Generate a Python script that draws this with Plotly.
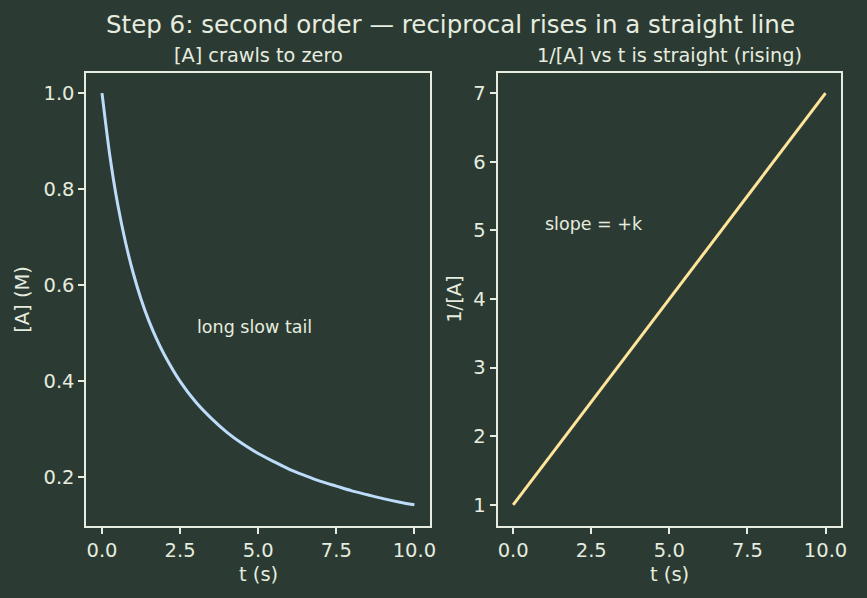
import plotly.graph_objects as go

# ---- data ----
t_s = [0.0, 0.25, 0.5, 0.75, 1.0, 1.25, 1.5, 1.75, 2.0, 2.5, 3.0, 3.5, 4.0, 4.5,
       5.0, 5.5, 6.0, 6.5, 7.0, 7.5, 8.0, 8.5, 9.0, 9.5, 10.0]
conc_A = [1.000, 0.870, 0.769, 0.690, 0.625, 0.571, 0.526, 0.488, 0.455, 0.400,
          0.357, 0.323, 0.294, 0.270, 0.250, 0.233, 0.217, 0.204, 0.192, 0.182,
          0.172, 0.164, 0.156, 0.149, 0.143]
recip_A = [1.00, 1.15, 1.30, 1.45, 1.60, 1.75, 1.90, 2.05, 2.20, 2.50, 2.80, 3.10,
           3.40, 3.70, 4.00, 4.30, 4.60, 4.90, 5.20, 5.50, 5.80, 6.10, 6.40, 6.70, 7.00]

x_ticks = [0, 2.5, 5, 7.5, 10]
x_tick_text = ["0.0", "2.5", "5.0", "7.5", "10.0"]
y1_ticks = [0.2, 0.4, 0.6, 0.8, 1.0]
y1_tick_text = ["0.2", "0.4", "0.6", "0.8", "1.0"]
y2_ticks = [1, 2, 3, 4, 5, 6, 7]
y2_tick_text = ["1", "2", "3", "4", "5", "6", "7"]

main_title = "Step 6: second order \u2014 reciprocal rises in a straight line"
left_title = "[A] crawls to zero"
right_title = "1/[A] vs t is straight (rising)"
left_note = "long slow tail"
right_note = "slope = +k"

# ---- style ----
W, H = 867, 598
BG = "#2b3b33"
FG = "#e6ecdf"
BLUE = "#bcdcfa"
YELLOW = "#ffe49a"
FONT = "DejaVu Sans"


def px(x):
    return x / W


def py(y):
    return 1 - y / H


fig = go.Figure()
fig.add_trace(go.Scatter(x=t_s, y=conc_A, mode="lines", xaxis="x", yaxis="y",
                         line=dict(color=BLUE, width=3, shape="spline", smoothing=0.8),
                         showlegend=False, hoverinfo="skip"))
fig.add_trace(go.Scatter(x=t_s, y=recip_A, mode="lines", xaxis="x2", yaxis="y2",
                         line=dict(color=YELLOW, width=3),
                         showlegend=False, hoverinfo="skip"))

axis_common = dict(showgrid=False, zeroline=False, showline=True, mirror=True,
                   linecolor=FG, linewidth=2, ticks="outside", ticklen=6,
                   tickwidth=1.5, tickcolor=FG,
                   tickfont=dict(family=FONT, size=19.5, color=FG))

y_lo, y_hi = 72.5, 525.5
fig.update_layout(
    width=W, height=H,
    margin=dict(l=0, r=0, t=0, b=0),
    paper_bgcolor=BG, plot_bgcolor=BG,
    font=dict(family=FONT, color=FG),
    xaxis=dict(domain=[px(87), px(433)], range=[-0.5, 10.5], anchor="y",
               tickvals=x_ticks, ticktext=x_tick_text, **axis_common),
    yaxis=dict(domain=[py(y_hi), py(y_lo)], range=[0.1, 1.0429], anchor="x",
               tickvals=y1_ticks, ticktext=y1_tick_text, **axis_common),
    xaxis2=dict(domain=[px(501), px(847)], range=[-0.5, 10.5], anchor="y2",
                tickvals=x_ticks, ticktext=x_tick_text, **axis_common),
    yaxis2=dict(domain=[py(y_hi), py(y_lo)], range=[0.7, 7.3], anchor="x2",
                tickvals=y2_ticks, ticktext=y2_tick_text, **axis_common),
)

ann = []
# main title
ann.append(dict(text=main_title, x=px(453.5), y=py(25), xref="paper", yref="paper",
                xanchor="center", yanchor="middle", showarrow=False,
                font=dict(family=FONT, size=24.5, color=FG)))
# subplot titles
ann.append(dict(text=left_title, x=px(260), y=py(56), xref="paper", yref="paper",
                xanchor="center", yanchor="middle", showarrow=False,
                font=dict(family=FONT, size=19.3, color=FG)))
ann.append(dict(text=right_title, x=px(674), y=py(56), xref="paper", yref="paper",
                xanchor="center", yanchor="middle", showarrow=False,
                font=dict(family=FONT, size=19.3, color=FG)))
# axis titles
for cx in (260, 674):
    ann.append(dict(text="t (s)", x=px(cx), y=py(574), xref="paper", yref="paper",
                    xanchor="center", yanchor="middle", showarrow=False,
                    font=dict(family=FONT, size=19.5, color=FG)))
ann.append(dict(text="[A] (M)", x=px(22), y=py(299), xref="paper", yref="paper",
                xanchor="center", yanchor="middle", showarrow=False, textangle=-90,
                font=dict(family=FONT, size=19.5, color=FG)))
ann.append(dict(text="1/[A]", x=px(457), y=py(299), xref="paper", yref="paper",
                xanchor="center", yanchor="middle", showarrow=False, textangle=-90,
                font=dict(family=FONT, size=19.5, color=FG)))
# notes in data coordinates
ann.append(dict(text=left_note, x=3, y=0.5, xref="x", yref="y",
                xanchor="left", yanchor="bottom", yshift=-6, xshift=-1, showarrow=False,
                font=dict(family=FONT, size=17.5, color=FG)))
ann.append(dict(text=right_note, x=1, y=5, xref="x2", yref="y2",
                xanchor="left", yanchor="bottom", yshift=-6, xshift=-1, showarrow=False,
                font=dict(family=FONT, size=17.5, color=FG)))
fig.update_layout(annotations=ann)

fig.write_html("out.html")
